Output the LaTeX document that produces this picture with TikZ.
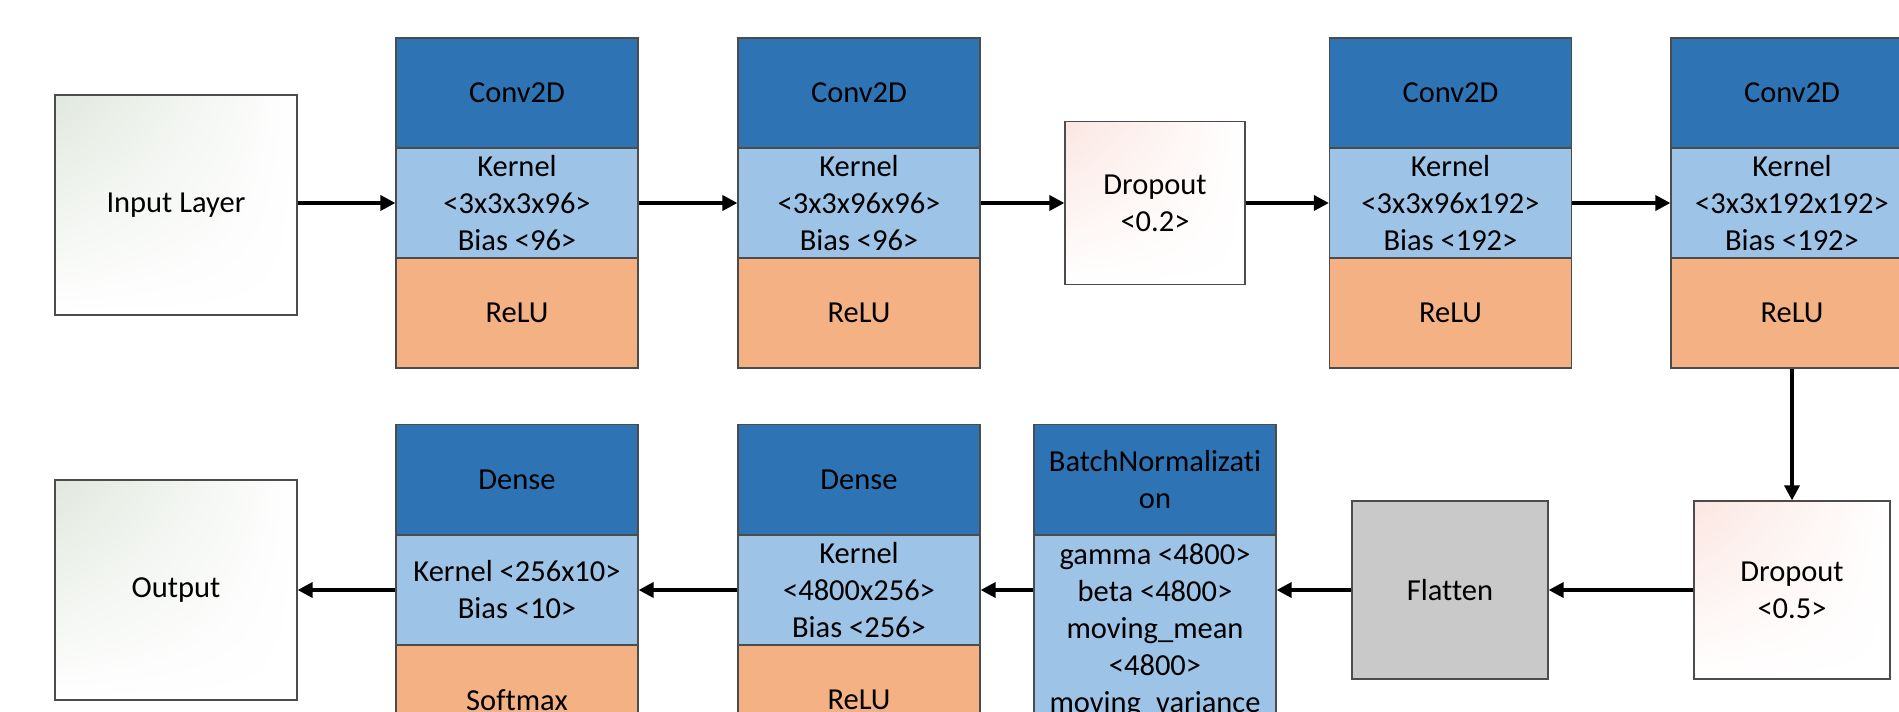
\documentclass[tikz,border=0pt]{standalone}
\usepackage{fontspec}
\setmainfont{Carlito}[Ligatures=NoCommon]
\usepackage{xcolor}
\usepackage{tikz}
\usetikzlibrary{arrows.meta, shadings}

\definecolor{hdblue}{HTML}{2E74B5}
\definecolor{kblue}{HTML}{9DC3E6}
\definecolor{actorange}{HTML}{F4B183}
\definecolor{flatgray}{HTML}{C9C9C9}
\definecolor{ingreen}{HTML}{E1E8DE}
\definecolor{droppink}{HTML}{FBE6E1}

\begin{document}
\begin{tikzpicture}[x=1pt, y=-1pt,
  every node/.style={font=\fontsize{30.5}{37}\selectfont, align=center, inner sep=0pt, draw=black!70, line width=1.2pt},
  part/.style={minimum width=242pt, minimum height=110pt},
  head/.style={part, fill=hdblue},
  kern/.style={part, fill=kblue},
  act/.style={part, fill=actorange},
  plainbox/.style={minimum width=242pt, minimum height=220pt, upper left=ingreen, upper right=white, lower left=white, lower right=white},
  dropbox/.style={upper left=droppink, upper right=white, lower left=white, lower right=white},
  flow/.style={line width=3.5pt, -{Triangle[length=15pt,width=15pt]}}]
\useasboundingbox (0,0) rectangle (1899,712);
\clip (0,0) rectangle (1899,712);

\node[plainbox] (in) at (176,205) {Input Layer};
\node[head] (c1h) at (517,93) {Conv2D};
\node[kern] (c1k) at (517,203) {Kernel\\<3x3x3x96>\\Bias <96>};
\node[act] (c1a) at (517,313) {ReLU};
\node[head] (c2h) at (859,93) {Conv2D};
\node[kern] (c2k) at (859,203) {Kernel\\<3x3x96x96>\\Bias <96>};
\node[act] (c2a) at (859,313) {ReLU};
\node[dropbox, minimum width=180pt, minimum height=163pt] (dra) at (1155,203) {Dropout\\<0.2>};
\node[head] (c3h) at (1450.5,93) {Conv2D};
\node[kern] (c3k) at (1450.5,203) {Kernel\\<3x3x96x192>\\Bias <192>};
\node[act] (c3a) at (1450.5,313) {ReLU};
\node[head] (c4h) at (1792,93) {Conv2D};
\node[kern] (c4k) at (1792,203) {Kernel\\<3x3x192x192>\\Bias <192>};
\node[act] (c4a) at (1792,313) {ReLU};

\node[dropbox, minimum width=196pt, minimum height=178pt] (drb) at (1792,590) {Dropout\\<0.5>};
\node[fill=flatgray, minimum width=196pt, minimum height=178pt] (fl) at (1450,590) {Flatten};
\node[head] (bnh) at (1155,479.5) {BatchNormalizati\\on};
\node[kern, anchor=north, inner ysep=8pt] (bnk) at (1155,535) {gamma <4800>\\beta <4800>\\moving\_mean\\<4800>\\moving\_variance};
\node[head] (d2h) at (859,479.5) {Dense};
\node[kern] (d2k) at (859,590) {Kernel\\<4800x256>\\Bias <256>};
\node[act] (d2a) at (859,700) {ReLU};
\node[head] (d1h) at (517,479.5) {Dense};
\node[kern] (d1k) at (517,590) {Kernel <256x10>\\Bias <10>};
\node[act] (d1a) at (517,700) {Softmax};
\node[plainbox] (out) at (176,590) {Output};

\draw[flow] (in.east |- c1k) -- (c1k);
\draw[flow] (c1k) -- (c2k);
\draw[flow] (c2k) -- (dra);
\draw[flow] (dra) -- (c3k);
\draw[flow] (c3k) -- (c4k);
\draw[flow] (c4a) -- (drb);
\draw[flow] (drb) -- (fl);
\draw[flow] (fl.west) -- (fl.west -| bnk.east);
\draw[flow] (d2k.east -| bnk.west) -- (d2k.east);
\draw[flow] (d2k) -- (d1k);
\draw[flow] (d1k) -- (out);

\end{tikzpicture}
\end{document}
